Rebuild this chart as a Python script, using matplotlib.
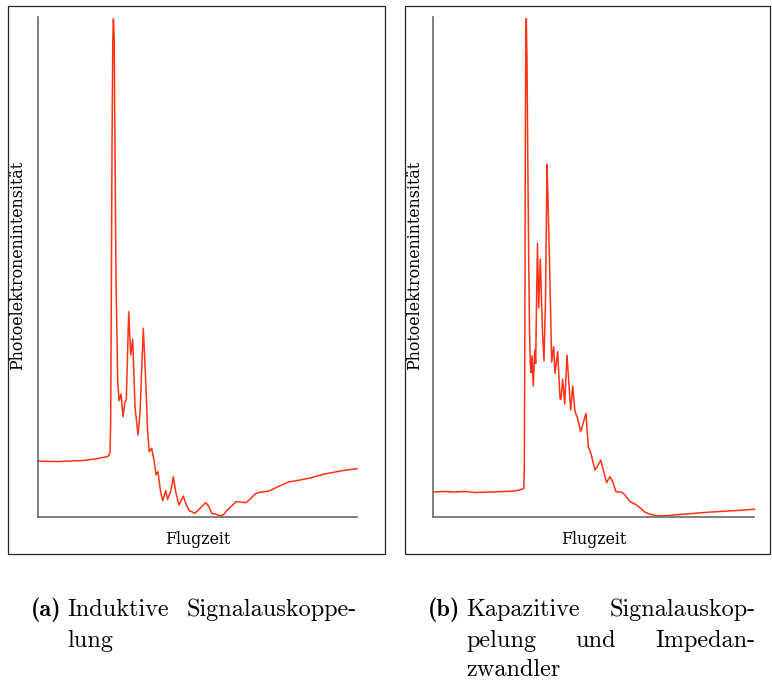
import matplotlib
matplotlib.use("Agg")
import matplotlib.pyplot as plt
from matplotlib.patches import Rectangle

# ---------------- data ----------------
# (a) inductive coupling: time-of-flight (arb.) vs intensity (arb.)
t_a = [0, 12, 22, 32, 45, 57, 65, 70, 72, 72.7, 73.3, 74, 74.8, 75.4, 76.2, 77, 78,
       79.7, 81, 83, 85, 87, 88.3, 90.7, 92.7, 94.7, 97, 100, 102, 105.3, 107.7,
       109.7, 111.3, 113.7, 116, 118, 120, 122.3, 124.7, 127.7, 129.7, 133, 135.3,
       138, 141, 145.3, 147.7, 151.3, 157, 162, 167.7, 171, 173.7, 178.7, 182,
       185.3, 188.7, 193.7, 198, 202, 208, 212, 217, 221.3, 230.3, 238.7, 250.3,
       262, 272, 285.3, 298.7, 308.7, 319]
i_a = [56, 55.5, 55.5, 56, 56.5, 58, 59.5, 60.5, 64, 97, 217, 367, 477, 498, 477, 367,
       237, 137, 116.3, 123, 100.3, 115.3, 117, 205.3, 162, 177.7, 110.3, 82, 104,
       188.7, 137, 83.7, 65.3, 68.7, 57, 42, 45.3, 27, 16.3, 26.3, 17.7, 27, 40.3,
       23.7, 12, 21, 13.7, 6.3, 3.7, 8.7, 14.3, 10.3, 3.7, 2.5, 1.3, 2, 6.3, 11,
       15.3, 15, 14.3, 17.7, 23, 24.7, 25.7, 29.7, 35, 37, 39, 42.7, 45.3, 47, 48.3]

# (b) capacitive coupling with impedance converter
t_b = [0.7, 12, 22, 32, 42, 57, 72, 82, 86.3, 90.7, 91.3, 91.8, 92.3, 92.8, 93.3, 94,
       94.8, 95.7, 96.5, 97.3, 98, 99, 100.3, 101.7, 102.7, 103.7, 104.5, 105.7,
       107.3, 108.5, 109.6, 111, 112.5, 113.3, 114, 115, 116.7, 118, 118.7, 120.7,
       122, 124.7, 127, 128, 129.7, 131.7, 134, 137.7, 139.7, 142, 144.3, 147.7,
       150.3, 153, 155.3, 157.7, 162, 164.3, 167.7, 170.3, 173.7, 177, 179.7, 183,
       188.7, 192, 197, 202, 207, 212, 217, 223.7, 233.7, 243.7, 257, 273.7, 290.3,
       307, 321.3]
i_b = [25, 25.5, 25, 25.5, 24.5, 25, 25.5, 26, 27, 28.4, 47, 167, 367, 477, 498.5, 457,
       357, 257, 187, 154, 144.3, 161, 131, 167, 153.7, 227, 273.7, 209, 258, 217,
       182.3, 156.3, 217, 287, 353, 317, 246.5, 187, 155, 170.3, 143.7, 165.3, 118.7,
       117.7, 137.7, 113, 162, 107, 131, 105.3, 99.7, 85.3, 94.3, 103.7, 70.3, 64.3,
       47, 50.3, 57, 47, 34.3, 40.3, 35.3, 25.3, 24.7, 22, 15.3, 13, 9.3, 4.7, 2.7,
       1.3, 1.3, 2.3, 3.3, 4.7, 5.7, 6.7, 7.7]

x_label = "Flugzeit"
y_label = "Photoelektronenintensität"

cap_a_tag = "(a)"
cap_a_lines = [["Induktive", "Signalauskoppe-"], ["lung"]]
cap_b_tag = "(b)"
cap_b_lines = [["Kapazitive", "Signalauskop-"], ["pelung", "und", "Impedan-"], ["zwandler"]]

# ---------------- figure ----------------
W, H = 772, 683
fig = plt.figure(figsize=(W / 100, H / 100), dpi=100)


def fx(px):
    return px / W


def fy(py):
    return 1 - py / H


LINE_COLOR = "#ff3216"
LABEL_FONT = ["DejaVu Serif"]
CAP_FONT = ["cmr10", "DejaVu Serif"]
CAP_BOLD = ["cmb10", "DejaVu Serif"]

panels = [
    dict(box=(8, 6, 385, 554), ax=(38, 17, 357, 517), t=t_a, i=i_a, xmax=319, ylab_x=18),
    dict(box=(405, 6, 770, 554), ax=(433, 17, 754, 517), t=t_b, i=i_b, xmax=321, ylab_x=415),
]

for p in panels:
    x0, y0, x1, y1 = p["box"]
    fig.patches.append(Rectangle((fx(x0), fy(y1)), (x1 - x0) / W, (y1 - y0) / H,
                                 transform=fig.transFigure, fill=False,
                                 edgecolor="#262626", lw=0.9))
    ax0, ay0, ax1, ay1 = p["ax"]
    ax = fig.add_axes([fx(ax0), fy(ay1), (ax1 - ax0) / W, (ay1 - ay0) / H])
    ax.plot(p["t"], p["i"], color=LINE_COLOR, lw=1.1, clip_on=False)
    ax.set_xlim(0, p["xmax"])
    ax.set_ylim(0, 500)
    ax.set_xticks([])
    ax.set_yticks([])
    for s in ("top", "right"):
        ax.spines[s].set_visible(False)
    for s in ("left", "bottom"):
        ax.spines[s].set_color("#6a6a6a")
        ax.spines[s].set_linewidth(1.2)
    fig.text(fx((ax0 + ax1) / 2), fy(540), x_label, ha="center", va="center",
             fontsize=11.3, family=LABEL_FONT)
    fig.text(fx(p["ylab_x"]), fy(265), y_label, ha="center", va="center",
             rotation=90, fontsize=11.4, family=LABEL_FONT)

# ---------------- captions (justified) ----------------
CAP_FS = 17.5
baselines = [616, 647, 676]


def place_caption(tag, lines, tag_right, x_left, x_right):
    fig.text(fx(tag_right), fy(baselines[0]), tag, ha="right", va="baseline",
             fontsize=CAP_FS, family=CAP_BOLD)
    rows = []
    for k, words in enumerate(lines):
        txts = [fig.text(0, fy(baselines[k]), w, ha="left", va="baseline",
                         fontsize=CAP_FS, family=CAP_FONT) for w in words]
        rows.append(txts)
    return rows, x_left, x_right


pending = [place_caption(cap_a_tag, cap_a_lines, 62, 67, 357),
           place_caption(cap_b_tag, cap_b_lines, 460, 466, 756)]

fig.canvas.draw()
r = fig.canvas.get_renderer()
for rows, xl, xr in pending:
    last = len(rows) - 1
    for k, txts in enumerate(rows):
        widths = [t.get_window_extent(r).width for t in txts]
        if k == last or len(txts) == 1:
            gap = 6
        else:
            gap = (xr - xl - sum(widths)) / (len(txts) - 1)
        x = xl
        for t, w in zip(txts, widths):
            t.set_x(fx(x))
            x += w + gap

fig.savefig("out.png", dpi=100)
